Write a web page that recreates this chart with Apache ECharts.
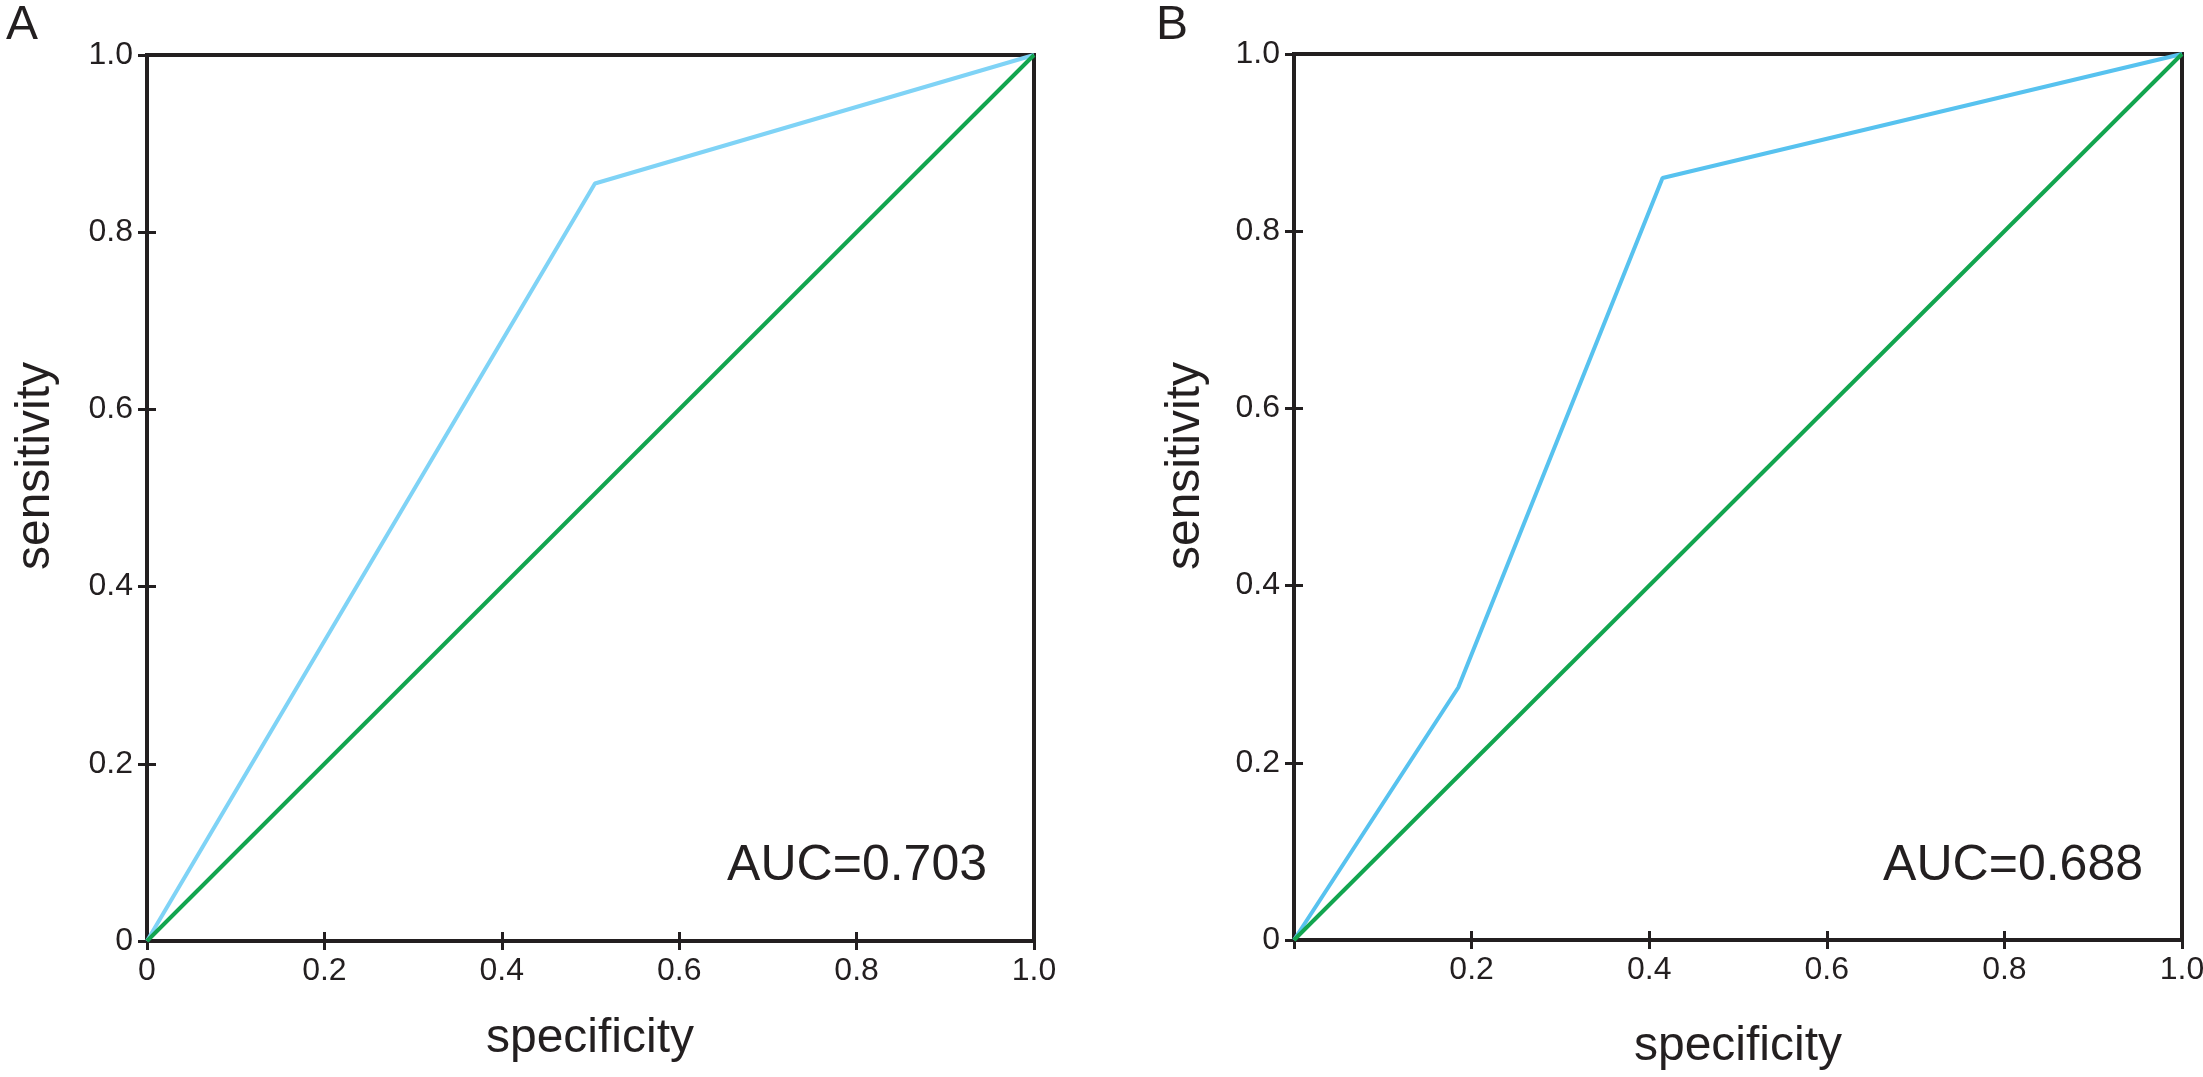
<!DOCTYPE html>
<html>
<head>
<meta charset="utf-8">
<script src="https://cdn.jsdelivr.net/npm/echarts@6/dist/echarts.min.js"></script>
<style>
  html, body { margin: 0; padding: 0; background: #ffffff; }
  #chart { width: 2203px; height: 1077px; }
</style>
</head>
<body>
<div id="chart"></div>
<script>
// ROC curves
const rocA = [[0, 0], [0.505, 0.855], [1, 1]]
const rocB = [[0, 0], [0.185, 0.285], [0.415, 0.86], [1, 1]]
const refLine = [[0, 0], [1, 1]]
const aucA = 'AUC=0.703'
const aucB = 'AUC=0.688'
const axisTicks = [0, 0.2, 0.4, 0.6, 0.8, 1.0]

const inkColor = '#231f20',
      blueA = '#7fd3f6',
      blueB = '#57c2ef',
      greenColor = '#12a54f'
const fontName = 'Liberation Sans, Arial, sans-serif'

const chart = echarts.init(document.getElementById('chart'), null, { renderer: 'canvas' })

// main grid: labels + outside ticks, overlay grid: inside ticks only
function mainAxis(gridIndex, hideZero) {
  return {
    type: 'value',
    gridIndex: gridIndex,
    min: axisTicks[0],
    max: axisTicks[axisTicks.length - 1],
    interval: 0.2,
    axisLine: { show: true, lineStyle: { color: inkColor, width: 4 } },
    axisTick: { show: true, inside: false, length: 9, lineStyle: { color: inkColor, width: 3 } },
    axisLabel: {
      show: true,
      margin: 14,
      fontSize: 32,
      fontFamily: fontName,
      color: inkColor,
      formatter: function (v) {
        if (v === 0) return hideZero ? '' : '0'
        return v.toFixed(1)
      }
    },
    splitLine: { show: false }
  }
}
function overlayAxis(gridIndex) {
  return {
    type: 'value',
    gridIndex: gridIndex,
    min: 0,
    max: 1,
    interval: 0.2,
    axisLine: { show: false },
    axisTick: { show: true, inside: true, length: 9, lineStyle: { color: inkColor, width: 3 } },
    axisLabel: { show: false },
    splitLine: { show: false }
  }
}

const gridBase = { show: true, borderColor: inkColor, borderWidth: 4, backgroundColor: 'transparent', outerBoundsMode: 'none', containLabel: false }

const textStyle = (size) => ({ fontSize: size, fontFamily: fontName, fill: inkColor })

const options = {
  backgroundColor: '#ffffff',
  animation: false,
  grid: [
    Object.assign({ left: 147, top: 55, width: 887, height: 886 }, gridBase),
    Object.assign({ left: 147, top: 55, width: 887, height: 886 }, gridBase, { show: false }),
    Object.assign({ left: 1294, top: 54, width: 888, height: 886 }, gridBase),
    Object.assign({ left: 1294, top: 54, width: 888, height: 886 }, gridBase, { show: false })
  ],
  xAxis: [mainAxis(0, false), overlayAxis(1), mainAxis(2, true), overlayAxis(3)],
  yAxis: [mainAxis(0, false), overlayAxis(1), mainAxis(2, false), overlayAxis(3)],
  series: [
    {
      name: 'A', type: 'line', xAxisIndex: 0, yAxisIndex: 0,
      data: rocA, showSymbol: false, symbol: 'none',
      lineStyle: { color: blueA, width: 4 }
    },
    {
      name: 'A ref', type: 'line', xAxisIndex: 0, yAxisIndex: 0,
      data: refLine, showSymbol: false, symbol: 'none',
      lineStyle: { color: greenColor, width: 4 }
    },
    {
      name: 'B', type: 'line', xAxisIndex: 2, yAxisIndex: 2,
      data: rocB, showSymbol: false, symbol: 'none',
      lineStyle: { color: blueB, width: 4 }
    },
    {
      name: 'B ref', type: 'line', xAxisIndex: 2, yAxisIndex: 2,
      data: refLine, showSymbol: false, symbol: 'none',
      lineStyle: { color: greenColor, width: 4 }
    }
  ],
  graphic: [
    // panel letters
    { type: 'text', left: 6, top: 2, style: Object.assign({ text: 'A' }, textStyle(48)) },
    { type: 'text', left: 1156, top: 2, style: Object.assign({ text: 'B' }, textStyle(48)) },
    // y titles
    { type: 'text', x: 36, y: 466, rotation: Math.PI / 2,
      style: Object.assign({ text: 'sensitivity', align: 'center', verticalAlign: 'middle' }, textStyle(48)) },
    { type: 'text', x: 1186, y: 466, rotation: Math.PI / 2,
      style: Object.assign({ text: 'sensitivity', align: 'center', verticalAlign: 'middle' }, textStyle(48)) },
    // x titles
    { type: 'text', x: 590, y: 1039,
      style: Object.assign({ text: 'specificity', align: 'center', verticalAlign: 'middle' }, textStyle(48)) },
    { type: 'text', x: 1738, y: 1047,
      style: Object.assign({ text: 'specificity', align: 'center', verticalAlign: 'middle' }, textStyle(48)) },
    // AUC
    { type: 'text', x: 987, y: 866,
      style: Object.assign({ text: aucA, align: 'right', verticalAlign: 'middle' }, textStyle(50)) },
    { type: 'text', x: 2143, y: 866,
      style: Object.assign({ text: aucB, align: 'right', verticalAlign: 'middle' }, textStyle(50)) }
  ]
}

chart.setOption(options)
</script>
</body>
</html>
